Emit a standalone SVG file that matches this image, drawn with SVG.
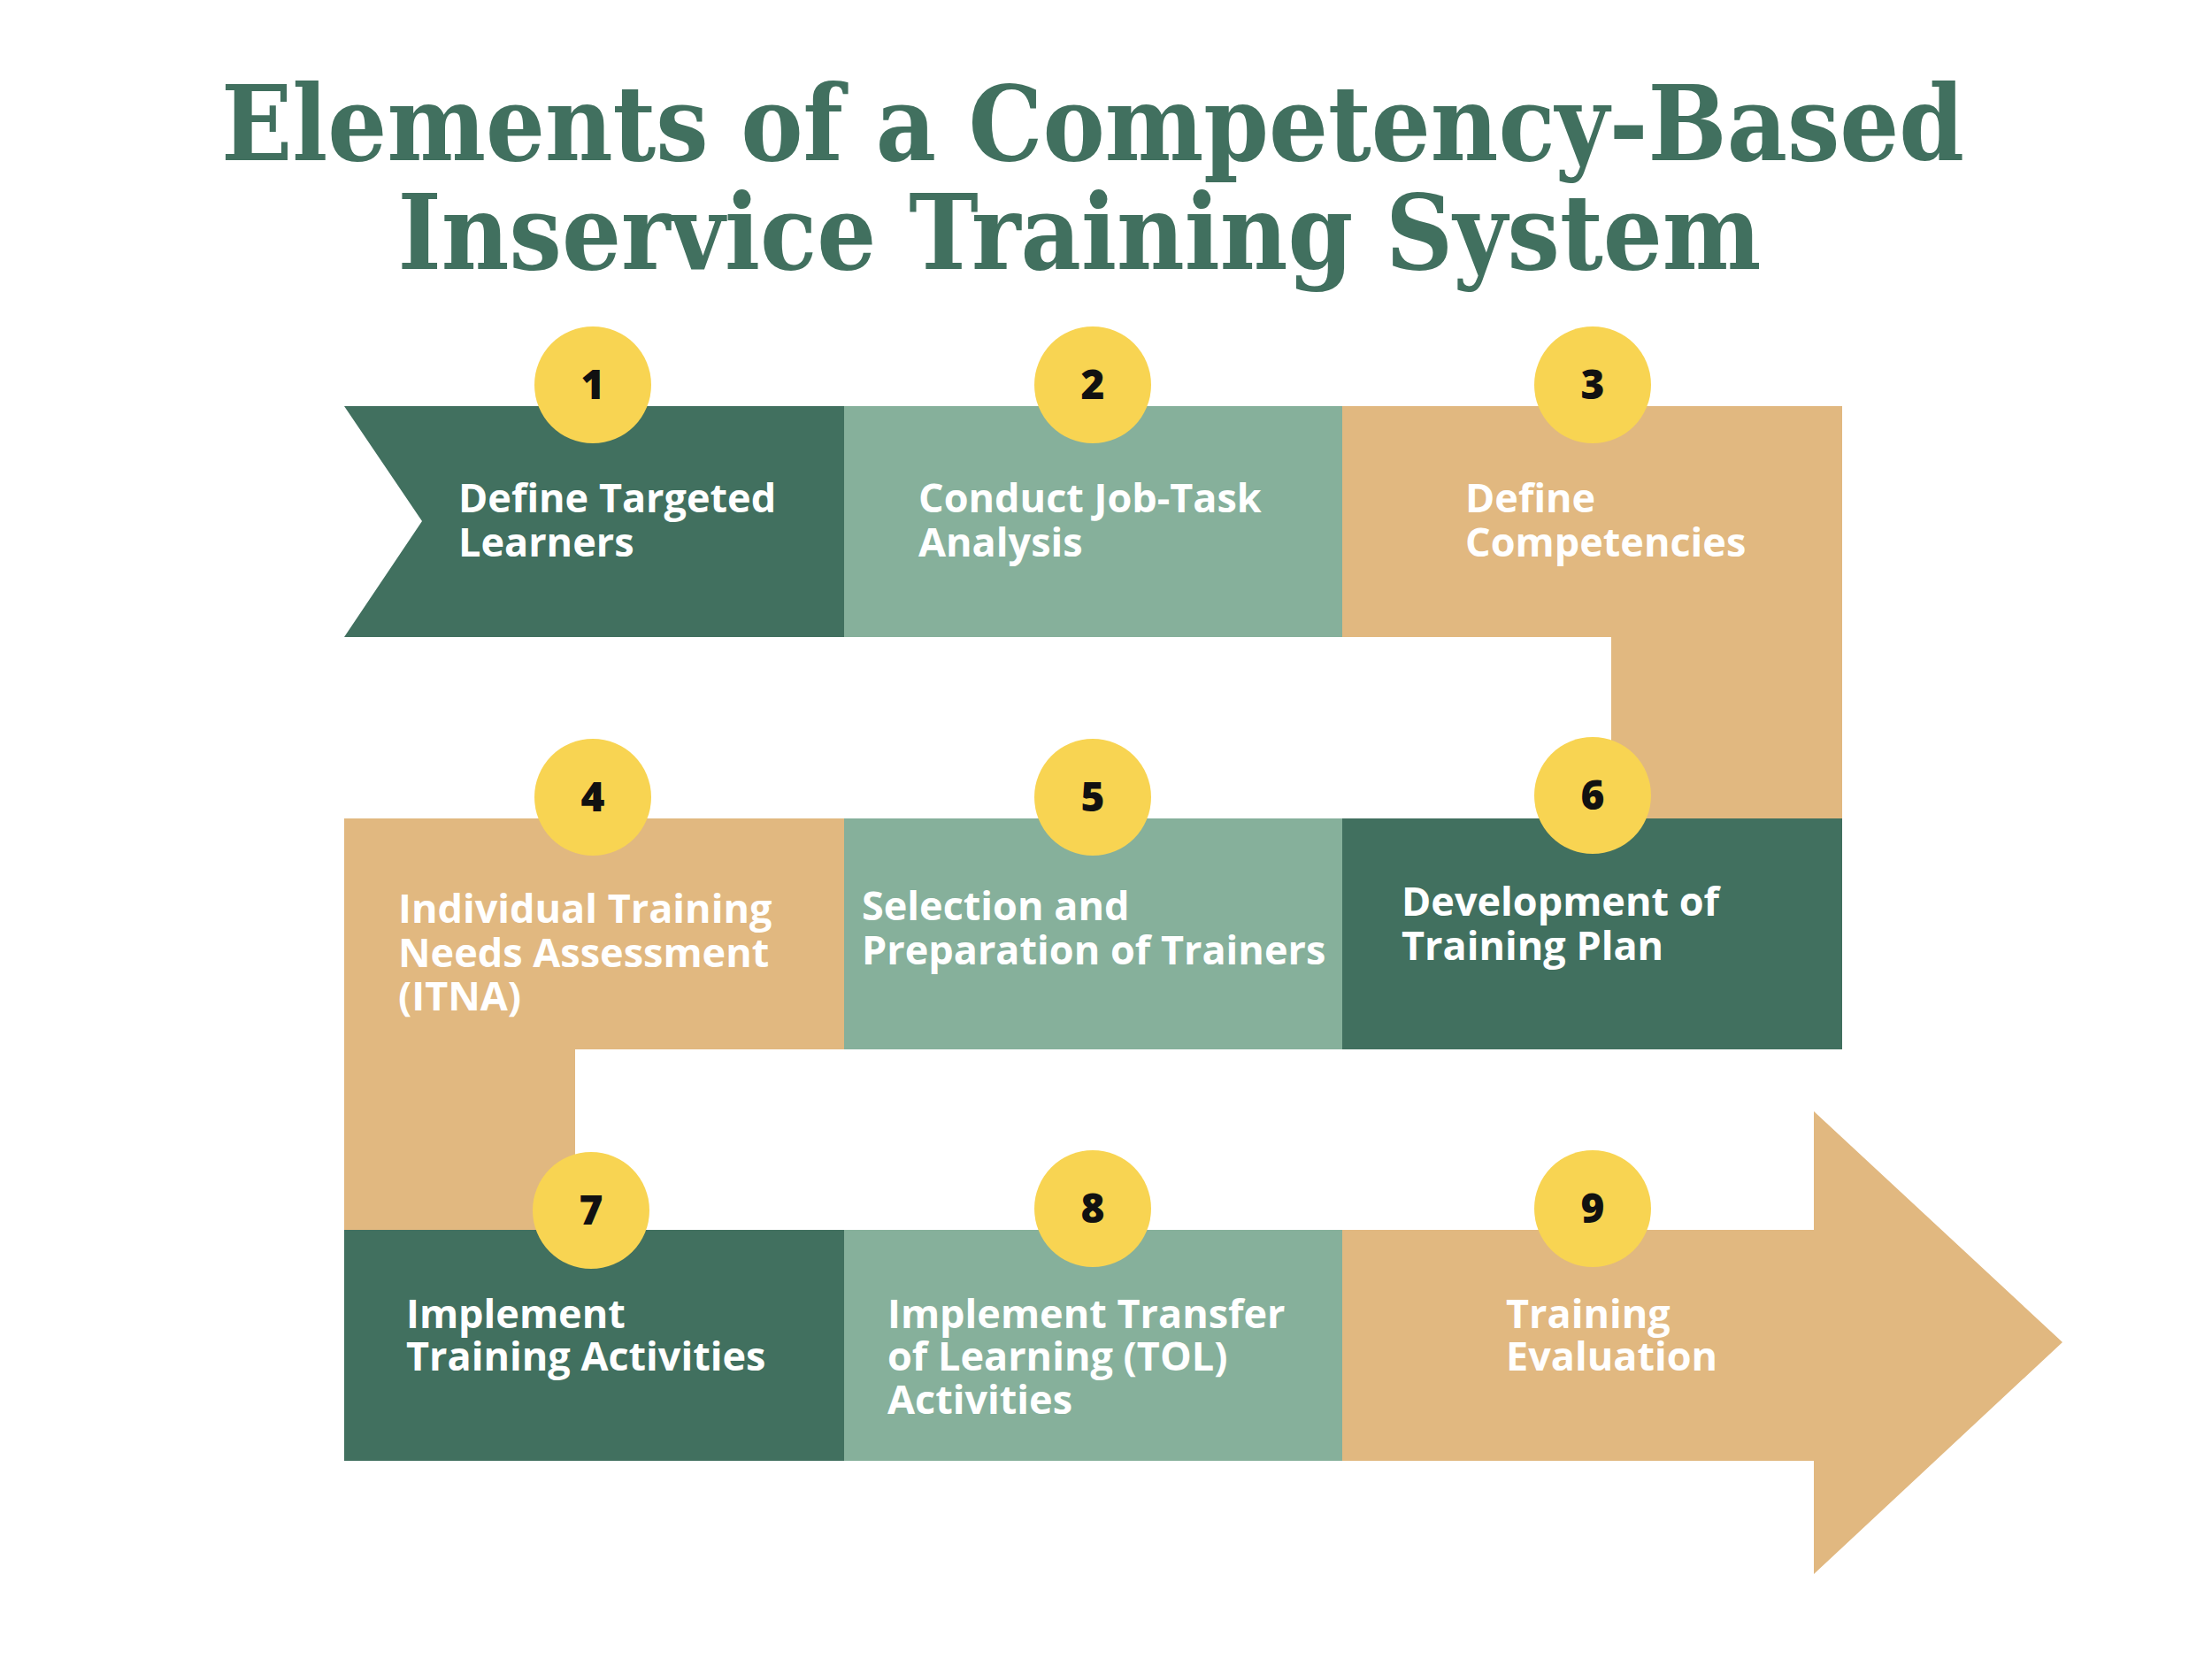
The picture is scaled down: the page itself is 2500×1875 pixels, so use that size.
<svg xmlns="http://www.w3.org/2000/svg" width="2500" height="1875" viewBox="0 0 2500 1875">
<style>
.dg{fill:#41705F}.lg{fill:#86B09B}.tn{fill:#E1B880}
.c{fill:#F8D452}
.n{font-family:"Open Sans","DejaVu Sans",sans-serif;font-weight:800;font-size:46px;fill:#111;text-anchor:middle}
.l{font-family:"Open Sans","DejaVu Sans",sans-serif;font-weight:700;font-size:45px;fill:#fff}
.t{font-family:"DejaVu Serif","Liberation Serif",serif;font-weight:700;font-size:118px;fill:#41705F;text-anchor:middle}
</style>
<rect width="2500" height="1875" fill="#fff"/>
<text class="t" x="1235" y="181" textLength="1970" lengthAdjust="spacingAndGlyphs">Elements of a Competency-Based</text>
<text class="t" x="1220" y="304" textLength="1541" lengthAdjust="spacingAndGlyphs">Inservice Training System</text>
<g id="connectors">
<rect class="tn" x="1821" y="715" width="261" height="215"/>
<rect class="tn" x="389" y="1181" width="261" height="214"/>
</g>
<g id="n1"><polygon class="dg" points="389,459 954,459 954,720 389,720 477,589"/><circle class="c" cx="670" cy="435" r="66"/><text class="n" x="670" y="451">1</text><text class="l" x="518" y="579">Define Targeted</text><text class="l" x="518" y="629">Learners</text></g>
<g id="n2"><rect class="lg" x="954" y="459" width="563" height="261"/><circle class="c" cx="1235" cy="435" r="66"/><text class="n" x="1235" y="451">2</text><text class="l" x="1038" y="579">Conduct Job-Task</text><text class="l" x="1038" y="629">Analysis</text></g>
<g id="n3"><rect class="tn" x="1517" y="459" width="565" height="261"/><circle class="c" cx="1800" cy="435" r="66"/><text class="n" x="1800" y="451">3</text><text class="l" x="1656" y="579">Define</text><text class="l" x="1656" y="629">Competencies</text></g>
<g id="n4"><rect class="tn" x="389" y="925" width="565" height="261"/><circle class="c" cx="670" cy="901" r="66"/><text class="n" x="670" y="917">4</text><text class="l" x="450" y="1043">Individual Training</text><text class="l" x="450" y="1093">Needs Assessment</text><text class="l" x="450" y="1142">(ITNA)</text></g>
<g id="n5"><rect class="lg" x="954" y="925" width="563" height="261"/><circle class="c" cx="1235" cy="901" r="66"/><text class="n" x="1235" y="917">5</text><text class="l" x="974" y="1040">Selection and</text><text class="l" x="974" y="1090">Preparation of Trainers</text></g>
<g id="n6"><rect class="dg" x="1517" y="925" width="565" height="261"/><circle class="c" cx="1800" cy="899" r="66"/><text class="n" x="1800" y="915">6</text><text class="l" x="1584" y="1035">Development of</text><text class="l" x="1584" y="1085">Training Plan</text></g>
<g id="n7"><rect class="dg" x="389" y="1390" width="565" height="261"/><circle class="c" cx="668" cy="1368" r="66"/><text class="n" x="668" y="1384">7</text><text class="l" x="459" y="1501">Implement</text><text class="l" x="459" y="1549">Training Activities</text></g>
<g id="n8"><rect class="lg" x="954" y="1390" width="563" height="261"/><circle class="c" cx="1235" cy="1366" r="66"/><text class="n" x="1235" y="1382">8</text><text class="l" x="1003" y="1501">Implement Transfer</text><text class="l" x="1003" y="1549">of Learning (TOL)</text><text class="l" x="1003" y="1598">Activities</text></g>
<g id="n9"><polygon class="tn" points="1517,1390 2050,1390 2050,1256 2331,1517 2050,1779 2050,1651 1517,1651"/><circle class="c" cx="1800" cy="1366" r="66"/><text class="n" x="1800" y="1382">9</text><text class="l" x="1702" y="1501">Training</text><text class="l" x="1702" y="1549">Evaluation</text></g>
</svg>
